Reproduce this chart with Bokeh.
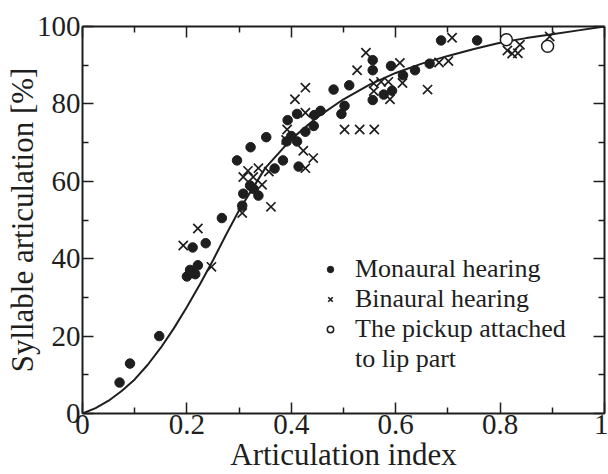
from bokeh.plotting import figure
from bokeh.models import (Range1d, FixedTicker, LinearAxis, Legend, LegendItem,
                          CustomLabelingPolicy)
from bokeh.embed import file_html
from bokeh.resources import INLINE

# ---- data ----
monaural_x = [0.071, 0.091, 0.147, 0.200, 0.206, 0.207, 0.216, 0.221, 0.211, 0.236,
              0.267, 0.306, 0.308, 0.321, 0.328, 0.337, 0.296, 0.322, 0.352, 0.368,
              0.384, 0.414, 0.393, 0.411, 0.391, 0.400, 0.411, 0.427, 0.443, 0.444,
              0.456, 0.481, 0.511, 0.502, 0.496, 0.556, 0.556, 0.591, 0.614, 0.637,
              0.556, 0.577, 0.593, 0.665, 0.687, 0.756]
monaural_y = [8.0, 12.9, 20.0, 35.4, 37.1, 36.4, 36.0, 38.3, 42.9, 44.0,
              50.5, 53.7, 56.8, 58.9, 58.0, 56.3, 65.4, 68.8, 71.4, 63.3,
              65.4, 63.8, 75.8, 77.4, 70.3, 71.7, 70.3, 72.8, 74.3, 77.1,
              78.2, 83.7, 84.8, 79.5, 77.4, 91.3, 88.7, 89.8, 87.4, 88.7,
              81.0, 82.4, 83.4, 90.4, 96.4, 96.4]

binaural_x = [0.193, 0.221, 0.247, 0.306, 0.361, 0.308, 0.317, 0.337, 0.327, 0.344,
              0.357, 0.392, 0.390, 0.407, 0.427, 0.427, 0.423, 0.442, 0.427, 0.502,
              0.531, 0.559, 0.526, 0.543, 0.608, 0.558, 0.572, 0.586, 0.558, 0.613,
              0.589, 0.661, 0.683, 0.701, 0.708, 0.814, 0.823, 0.834, 0.838, 0.895]
binaural_y = [43.4, 47.8, 37.9, 51.8, 53.4, 61.1, 62.7, 63.4, 61.1, 59.1,
              62.5, 73.4, 70.7, 81.2, 84.2, 77.7, 67.9, 66.0, 63.4, 73.4,
              73.4, 73.4, 88.7, 93.2, 90.6, 85.3, 85.7, 85.7, 83.3, 85.4,
              81.2, 83.7, 90.7, 91.1, 97.1, 93.8, 93.0, 93.1, 95.3, 97.4]

pickup_x = [0.812, 0.891]
pickup_y = [96.6, 94.9]

curve_x = [0.0, 0.025, 0.05, 0.075, 0.1, 0.125, 0.15, 0.175, 0.2, 0.225, 0.25, 0.275,
           0.3, 0.35, 0.4, 0.45, 0.5, 0.55, 0.6, 0.65, 0.7, 0.75, 0.8, 0.85, 0.9,
           0.95, 1.0]
curve_y = [0.0, 1.4, 3.3, 5.8, 8.8, 12.6, 17.0, 22.0, 27.5, 33.4, 39.6, 46.2,
           52.5, 63.4, 70.9, 76.6, 81.2, 85.0, 88.0, 90.4, 92.4, 94.2, 95.8, 97.0, 98.0,
           99.0, 100.0]

x_major = [0, 0.2, 0.4, 0.6, 0.8, 1.0]
x_minor = [0.1, 0.3, 0.5, 0.7, 0.9]
x_tick_labels = ["0", "0.2", "0.4", "0.6", "0.8", "1"]
y_major = [0, 20, 40, 60, 80, 100]
y_minor = [10, 30, 50, 70, 90]
y_tick_labels = ["0", "20", "40", "60", "80", "100"]

series_labels = ["Monaural hearing", "Binaural hearing", "The pickup attached", "to lip part"]
x_title = "Articulation index"
y_title = "Syllable articulation [%]"

FONT = "Liberation Serif"
INK = "#1e1e1e"

p = figure(width=608, height=474, output_backend="svg", toolbar_location=None,
           x_range=Range1d(0, 1), y_range=Range1d(0, 100),
           min_border_left=82, min_border_right=4, min_border_top=26, min_border_bottom=59,
           x_axis_label=x_title, y_axis_label=y_title)
p.xgrid.visible = False
p.ygrid.visible = False
p.outline_line_color = None
p.background_fill_color = "white"
p.border_fill_color = "white"


def style(ax, show_labels=True):
    ax.axis_line_width = 2
    ax.axis_line_color = INK
    ax.major_tick_in = 11
    ax.major_tick_out = 0
    ax.minor_tick_in = 6
    ax.minor_tick_out = 0
    ax.major_tick_line_width = 1.5
    ax.minor_tick_line_width = 1.5
    ax.major_tick_line_color = INK
    ax.minor_tick_line_color = INK
    if show_labels:
        ax.major_label_text_font = FONT
        ax.major_label_text_font_size = "29px"
        ax.major_label_text_color = INK
        ax.axis_label_text_font = FONT
        ax.axis_label_text_font_size = "31px"
        ax.axis_label_text_font_style = "normal"
        ax.axis_label_text_color = INK
    else:
        # mirror axis: ticks only, no labels drawn
        ax.major_label_policy = CustomLabelingPolicy(code="return new Set()")
        ax.major_label_text_font_size = "0px"
        ax.major_label_standoff = 0
        ax.axis_label_standoff = 0


xa = p.xaxis[0]
xa.ticker = FixedTicker(ticks=x_major, minor_ticks=x_minor)
xa.major_label_overrides = {v: s for v, s in zip(x_major, x_tick_labels)}
style(xa)
xa.major_label_standoff = 1
xa.axis_label_standoff = 0

ya = p.yaxis[0]
ya.ticker = FixedTicker(ticks=y_major, minor_ticks=y_minor)
ya.major_label_overrides = {v: s for v, s in zip(y_major, y_tick_labels)}
style(ya)
ya.major_label_standoff = 2
ya.axis_label_standoff = -6

top = LinearAxis(ticker=FixedTicker(ticks=x_major, minor_ticks=x_minor))
style(top, False)
p.add_layout(top, "above")
right = LinearAxis(ticker=FixedTicker(ticks=y_major, minor_ticks=y_minor))
style(right, False)
p.add_layout(right, "right")

p.line(curve_x, curve_y, line_width=2, line_color=INK)
r_mon = p.scatter(monaural_x, monaural_y, marker="circle", size=9.5,
                  fill_color=INK, line_color=INK)
r_bin = p.scatter(binaural_x, binaural_y, marker="x", size=13,
                  line_color=INK, line_width=1.7)
r_pick = p.scatter(pickup_x, pickup_y, marker="circle", size=12,
                   fill_color="white", line_color=INK, line_width=1.5)
r_blank = p.scatter([], [], marker="circle", size=1, fill_alpha=0, line_alpha=0)

legend = Legend(items=[LegendItem(label=series_labels[0], renderers=[r_mon]),
                       LegendItem(label=series_labels[1], renderers=[r_bin]),
                       LegendItem(label=series_labels[2], renderers=[r_pick]),
                       LegendItem(label=series_labels[3], renderers=[r_blank])],
                location=(240, 39), border_line_color=None, background_fill_alpha=0,
                padding=0, margin=0, spacing=0, glyph_width=16, glyph_height=20,
                label_standoff=17, label_height=20,
                label_text_font=FONT, label_text_font_size="26px", label_text_color=INK)
p.add_layout(legend)

open("out.html", "w").write(file_html(p, INLINE))
